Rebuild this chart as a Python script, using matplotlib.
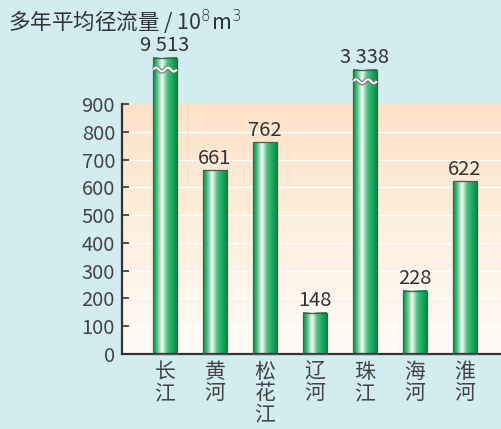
import numpy as np
import matplotlib.pyplot as plt
from matplotlib.colors import LinearSegmentedColormap

plt.rcParams['font.family'] = ['Noto Sans CJK SC', 'DejaVu Sans']
plt.rcParams['font.weight'] = 'light'

# rivers and mean annual runoff (10^8 m^3)
rivers = ['长江', '黄河', '松花江', '辽河', '珠江', '海河', '淮河']
runoff = [9513, 661, 762, 148, 3338, 228, 622]
labels = ['9 513', '661', '762', '148', '3 338', '228', '622']
# bars above the axis top are cut and drawn to these heights
cut_top = {0: 1066, 4: 1024}

yticks = list(range(0, 1000, 100))
ymax = 900

bg = '#d3ecf0'
fig = plt.figure(figsize=(5.02, 4.29), dpi=100, facecolor=bg)
ax = fig.add_axes([122/502, 75/429, 380/502, 250/429])
ax.set_xlim(-0.86, 6.74)
ax.set_ylim(0, ymax)

# peach gradient behind the plot
grad = np.linspace(0, 1, 256).reshape(-1, 1)
peach = LinearSegmentedColormap.from_list('peach', ['#fffcf8', '#fde2c6'])
ax.imshow(grad, cmap=peach, extent=[-0.86, 6.74, 0, ymax], origin='lower',
          aspect='auto', zorder=0)
for t in yticks[1:-1]:
    ax.axhline(t, color='white', lw=1.0, zorder=1)

bar_cmap = LinearSegmentedColormap.from_list(
    'bar', [(0, '#0c9148'), (0.12, '#2fb06a'), (0.38, '#f2fbf5'),
            (0.6, '#4dc07f'), (0.85, '#14a35a'), (1, '#0a8c45')])
stripe = np.linspace(0, 1, 128).reshape(1, -1)
w = 0.47
for i, v in enumerate(runoff):
    h = cut_top.get(i, v)
    x0, x1 = i - w/2, i + w/2
    ax.imshow(stripe, cmap=bar_cmap, extent=[x0, x1, 0, h], aspect='auto',
              zorder=2, clip_on=False, interpolation='bilinear')
    ax.add_patch(plt.Rectangle((x0, 0), w, h, fill=False, ec='#555555',
                               lw=0.9, zorder=3, clip_on=False))
    if i in cut_top:
        xs = np.linspace(x0, x1, 60)
        ys = h - 42 + 7 * np.sin((xs - x0) / w * 2 * np.pi * 2)
        ax.plot(xs, ys, color='#707070', lw=3.0, zorder=4, clip_on=False,
                solid_capstyle='butt')
        ax.plot(xs, ys, color='white', lw=1.5, zorder=5, clip_on=False,
                solid_capstyle='butt')
    ax.text(i, h + 6, labels[i], ha='center', va='bottom', fontsize=14.5,
            color='#333333', zorder=6)

ax.set_yticks(yticks)
ax.set_yticklabels([str(t) for t in yticks], fontsize=14.5, color='#444444')
ax.tick_params(axis='y', direction='in', length=5, width=1.2,
               color='#333333', pad=5)
ax.set_xticks(range(len(rivers)))
ax.set_xticklabels(['\n'.join(r) for r in rivers], fontsize=15,
                   color='#444444', linespacing=0.95, va='top')
ax.tick_params(axis='x', length=0, pad=5)
for s in ['top', 'right']:
    ax.spines[s].set_visible(False)
for s in ['left', 'bottom']:
    ax.spines[s].set_color('#333333')
    ax.spines[s].set_linewidth(1.6)

fig.text(8/502, 1 - 22/429, '多年平均径流量 / 10$^8$m$^3$', fontsize=15.5,
         color='#333333', va='center', ha='left')

fig.savefig('out.png', dpi=100, facecolor=bg)
